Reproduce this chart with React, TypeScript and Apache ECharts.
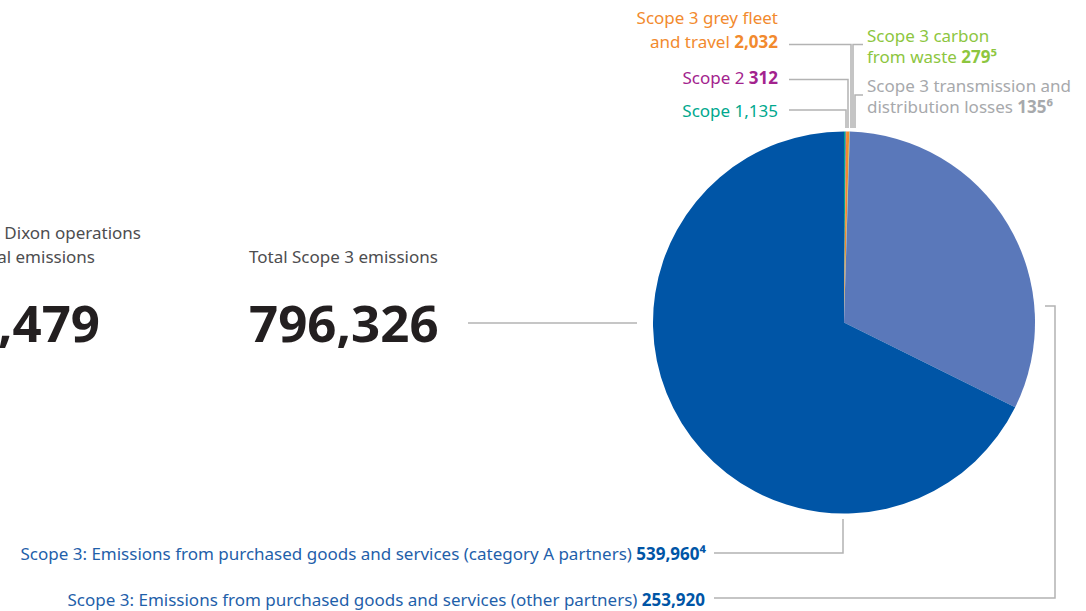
import React, { useEffect, useRef } from "react";
import * as echarts from "echarts";

const categories = [
  "Scope 1",
  "Scope 2",
  "Scope 3 grey fleet and travel",
  "Scope 3 carbon from waste",
  "Scope 3 transmission and distribution losses",
  "Scope 3: Emissions from purchased goods and services (other partners)",
  "Scope 3: Emissions from purchased goods and services (category A partners)",
];
const values = [1135, 312, 2032, 279, 135, 253920, 539960];
const colors = ["#00A88E", "#A3238E", "#F28A2E", "#8DC63F", "#A7A9AC", "#5A78BA", "#0055A6"];
const totalScope3Label = "796,326";
const totalOpsLabel = "797,479";

const FONT = "'Noto Sans', 'Open Sans', sans-serif";
const LINE = "#B3B3B3";
const FS = 17;

export default function App() {
  const ref = useRef<HTMLDivElement>(null);
  useEffect(() => {
    document.body.style.margin = "0";
    const chart = echarts.init(ref.current!, undefined, { renderer: "svg" });
    const lineEl = (points: number[][]) => ({
      type: "polyline",
      silent: true,
      shape: { points },
      style: { stroke: LINE, lineWidth: 1.5, fill: null },
    });
    const txt = (x: number, y: number, text: string, align: string, color: string, rich: any = {}, extra: any = {}) => ({
      type: "text",
      silent: true,
      x,
      y,
      style: {
        text,
        fill: color,
        fontFamily: FONT,
        fontSize: FS,
        align,
        verticalAlign: "middle",
        lineHeight: 21,
        rich,
        ...extra,
      },
    });
    const boldRich = (color: string, lh = 21) => ({
      b: { fontWeight: "bold", fontSize: FS, fill: color, color, fontFamily: FONT, lineHeight: lh },
    });
    chart.setOption({
      animation: false,
      textStyle: { fontFamily: FONT },
      series: [
        {
          type: "pie",
          center: [844, 322.5],
          radius: [0, 191],
          startAngle: 90,
          clockwise: true,
          silent: true,
          label: { show: false },
          labelLine: { show: false },
          itemStyle: { borderWidth: 0 },
          emphasis: { disabled: true },
          data: categories.map((name, i) => ({ name, value: values[i], itemStyle: { color: colors[i] } })),
        },
      ],
      graphic: [
        // left partial block
        txt(141, 232, "Current Dixon operations", "right", "#4D4D4F"),
        txt(95, 256, "total emissions", "right", "#4D4D4F"),
        {
          type: "text", silent: true, x: 100, y: 322,
          style: { text: totalOpsLabel, fill: "#231F20", fontFamily: FONT, fontSize: 51, fontWeight: "bold", align: "right", verticalAlign: "middle" },
        },
        txt(249, 256, "Total Scope 3 emissions", "left", "#4D4D4F"),
        {
          type: "text", silent: true, x: 249, y: 322,
          style: { text: totalScope3Label, fill: "#231F20", fontFamily: FONT, fontSize: 51, fontWeight: "bold", align: "left", verticalAlign: "middle" },
        },
        lineEl([[468, 323], [637, 323]]),
        // top left labels
        txt(778, 29.5, "Scope 3 grey fleet\nand travel {b|2,032}", "right", "#F28A2E", boldRich("#F28A2E", 24), { lineHeight: 24 }),
        txt(778, 77, "Scope 2 {b|312}", "right", "#A3238E", boldRich("#A3238E")),
        txt(778, 110, "Scope 1,135", "right", "#00A88E"),
        lineEl([[789, 44.5], [851, 44.5], [851, 128]]),
        lineEl([[789, 79.5], [848, 79.5], [848, 128]]),
        lineEl([[789, 110], [846, 110], [846, 128]]),
        // top right labels
        txt(867, 46, "Scope 3 carbon\nfrom waste {b|279⁵}", "left", "#8DC63F", boldRich("#8DC63F")),
        txt(867, 95.5, "Scope 3 transmission and\ndistribution losses {b|135⁶}", "left", "#A7A9AC", boldRich("#A7A9AC")),
        lineEl([[863, 44.5], [853, 44.5], [853, 128]]),
        lineEl([[863, 95], [855, 95], [855, 128]]),
        // bottom labels
        txt(706, 553, "Scope 3: Emissions from purchased goods and services (category A partners) {b|539,960⁴}", "right", "#1F5FAA", boldRich("#0055A6")),
        txt(705, 599, "Scope 3: Emissions from purchased goods and services (other partners) {b|253,920}", "right", "#1F5FAA", boldRich("#0055A6")),
        lineEl([[714, 553], [843, 553], [843, 519]]),
        lineEl([[714, 598], [1055, 598], [1055, 306], [1045, 306]]),
      ],
    });
    return () => chart.dispose();
  }, []);
  return <div ref={ref} style={{ position: "absolute", left: 0, top: 0, width: 1086, height: 611 }} />;
}
